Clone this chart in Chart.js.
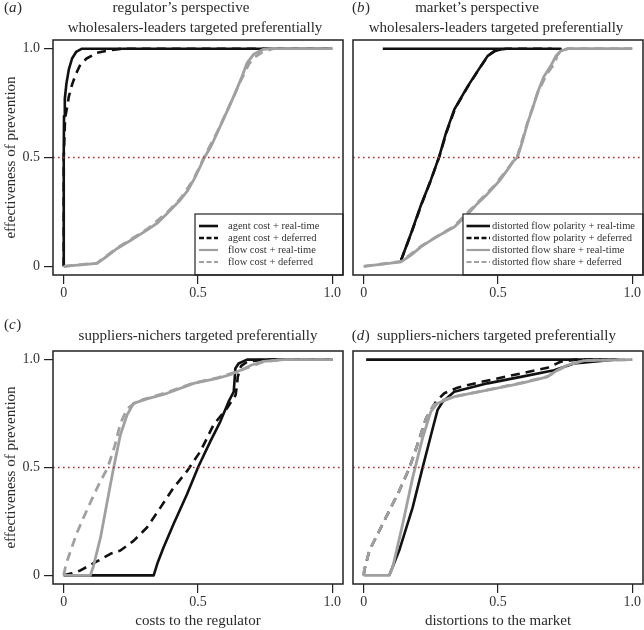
<!DOCTYPE html>
<html>
<head>
<meta charset="utf-8">
<script src="https://cdn.jsdelivr.net/npm/chart.js@4.4.1/dist/chart.umd.min.js"></script>
<style>
  body { margin: 0; background: #fff; }
  #wrap { position: relative; width: 644px; height: 630px; overflow: hidden; }
  canvas { position: absolute; }
</style>
</head>
<body>
<div id="wrap">
  <canvas id="pa" width="348" height="310" style="left:0;top:0"></canvas>
  <canvas id="pb" width="296" height="310" style="left:348px;top:0"></canvas>
  <canvas id="pc" width="348" height="320" style="left:0;top:310px"></canvas>
  <canvas id="pd" width="296" height="320" style="left:348px;top:310px"></canvas>
</div>
<script>
// four-panel prevention effectiveness figure, one Chart.js scatter per panel

const FONT = "'Liberation Serif', 'Times New Roman', serif";

// axes
const AXIS_MIN = -0.04, AXIS_MAX = 1.04;
const X_TICKS = [0, 0.5, 1];
const X_TICK_LABELS = ['0', '0.5', '1.0'];
const Y_TICKS = [0, 0.5, 1];
const Y_TICK_LABELS = ['0', '0.5', '1.0'];
const THRESHOLD = 0.5;

const Y_TITLE = 'effectiveness of prevention';
const LEGEND_COST = ['agent cost + real-time', 'agent cost + deferred', 'flow cost + real-time', 'flow cost + deferred'];
const LEGEND_DIST = ['distorted flow polarity + real-time', 'distorted flow polarity + deferred',
  'distorted flow share + real-time', 'distorted flow share + deferred'];

// (a) regulator, wholesalers-leaders  [x, y]
const aAgentRealTime = [[0,0],[0,0.5],[0.001,0.69],[0.004,0.77],[0.01,0.84],[0.019,0.905],[0.031,0.955],[0.046,0.985],[0.068,1],[1,1]];
const aAgentDeferred = [[0,0],[0,0.5],[0.005,0.68],[0.013,0.735],[0.019,0.78],[0.031,0.835],[0.044,0.88],[0.062,0.928],[0.085,0.955],[0.106,0.969],[0.118,0.98],[0.168,0.992],[0.217,1],[1,1]];
const aFlowRealTime = [[0,0],[0.124,0.013],[0.16,0.045],[0.199,0.082],[0.25,0.12],[0.31,0.166],[0.35,0.2],[0.385,0.243],[0.434,0.305],[0.46,0.345],[0.484,0.397],[0.505,0.45],[0.524,0.5],[0.55,0.555],[0.571,0.612],[0.6,0.69],[0.633,0.781],[0.66,0.86],[0.683,0.935],[0.707,0.974],[0.744,0.997],[0.77,1],[1,1]];
const aFlowDeferred = [[0,0],[0.124,0.015],[0.2,0.085],[0.31,0.17],[0.385,0.247],[0.434,0.31],[0.484,0.4],[0.524,0.505],[0.571,0.615],[0.633,0.78],[0.66,0.855],[0.69,0.93],[0.71,0.96],[0.74,0.985],[0.78,1],[1,1]];

// (b) market, wholesalers-leaders
const bPolarityRealTime = [[0.139,0.028],[0.176,0.151],[0.213,0.281],[0.25,0.397],[0.281,0.504],[0.306,0.612],[0.337,0.72],[0.387,0.827],[0.424,0.897],[0.461,0.966],[0.486,0.989],[0.523,1],[0.733,1],[0.071,1]];
const bPolarityDeferred = [[0.139,0.028],[0.178,0.155],[0.215,0.285],[0.25,0.395],[0.283,0.51],[0.308,0.615],[0.34,0.725],[0.39,0.83],[0.426,0.9],[0.463,0.968],[0.49,0.99],[0.53,1],[0.7,1]];
const bShareRealTime = [[0,0],[0.07,0.01],[0.139,0.02],[0.175,0.05],[0.213,0.089],[0.27,0.135],[0.337,0.181],[0.38,0.23],[0.424,0.289],[0.455,0.325],[0.486,0.366],[0.51,0.4],[0.535,0.443],[0.555,0.48],[0.572,0.5],[0.59,0.57],[0.61,0.658],[0.63,0.73],[0.647,0.797],[0.67,0.87],[0.696,0.92],[0.715,0.965],[0.733,0.989],[0.758,1],[1,1]];
const bShareDeferred = [[0,0],[0.139,0.022],[0.213,0.092],[0.337,0.185],[0.424,0.293],[0.486,0.37],[0.535,0.447],[0.572,0.505],[0.61,0.66],[0.647,0.795],[0.68,0.88],[0.7,0.915],[0.712,0.93],[0.72,0.97],[0.735,0.99],[0.76,1],[1,1]];

// (c) regulator, suppliers-nichers
const cAgentRealTime = [[0,0],[0.335,0],[0.35,0.06],[0.372,0.13],[0.409,0.238],[0.459,0.376],[0.502,0.506],[0.546,0.621],[0.583,0.713],[0.614,0.805],[0.633,0.851],[0.636,0.9],[0.639,0.959],[0.651,0.982],[0.683,1],[1,1]];
const cAgentDeferred = [[0,0],[0.03,0.01],[0.062,0.023],[0.118,0.061],[0.174,0.1],[0.211,0.115],[0.261,0.161],[0.31,0.222],[0.36,0.314],[0.409,0.406],[0.459,0.483],[0.509,0.575],[0.558,0.698],[0.608,0.775],[0.64,0.836],[0.645,0.88],[0.648,0.92],[0.66,0.97],[0.683,0.99],[0.745,1],[1,1]];
const cFlowRealTime = [[0,0],[0.099,0],[0.11,0.04],[0.137,0.176],[0.174,0.422],[0.186,0.5],[0.211,0.652],[0.236,0.744],[0.26,0.797],[0.31,0.818],[0.385,0.844],[0.484,0.89],[0.571,0.913],[0.62,0.93],[0.658,0.951],[0.7,0.975],[0.744,0.992],[0.819,1],[1,1]];
const cFlowDeferred = [[0,0],[0.008,0.05],[0.03,0.13],[0.05,0.2],[0.074,0.268],[0.1,0.34],[0.13,0.42],[0.164,0.5],[0.19,0.6],[0.21,0.7],[0.235,0.77],[0.27,0.805],[0.31,0.82],[0.385,0.848],[0.484,0.892],[0.571,0.915],[0.658,0.95],[0.744,0.99],[0.82,1],[1,1]];

// (d) market, suppliers-nichers
const dPolarityRealTime = [[0.095,0],[0.132,0.115],[0.182,0.314],[0.219,0.498],[0.257,0.682],[0.275,0.767],[0.294,0.805],[0.337,0.851],[0.461,0.89],[0.585,0.92],[0.709,0.951],[0.783,0.982],[0.894,0.995],[0.932,1],[0.009,1]];
const dPolarityDeferred = [[0,0],[0.002,0.023],[0.021,0.115],[0.058,0.207],[0.095,0.299],[0.132,0.391],[0.17,0.498],[0.2,0.606],[0.232,0.728],[0.269,0.805],[0.3,0.844],[0.349,0.87],[0.424,0.893],[0.51,0.916],[0.597,0.939],[0.684,0.962],[0.733,0.99],[0.79,1],[0.95,1]];
const dShareRealTime = [[0,0],[0.095,0],[0.108,0.038],[0.145,0.238],[0.182,0.452],[0.219,0.636],[0.25,0.759],[0.275,0.798],[0.337,0.828],[0.461,0.859],[0.585,0.89],[0.684,0.92],[0.72,0.95],[0.758,0.974],[0.82,0.995],[1,1]];
const dShareDeferred = [[0,0],[0.002,0.025],[0.021,0.115],[0.058,0.207],[0.095,0.299],[0.132,0.391],[0.17,0.498],[0.2,0.606],[0.232,0.728],[0.26,0.79],[0.3,0.815],[0.337,0.828],[0.461,0.86],[0.585,0.892],[0.684,0.922],[0.758,0.975],[0.82,0.996],[1,1]];

// line styles: black solid, black dashed, grey solid, grey dashed
const STYLES = [
  { color: '#111111', width: 2.6, dash: [],     legendDash: [] },
  { color: '#111111', width: 2.6, dash: [9, 6], legendDash: [5, 2.5] },
  { color: '#a0a0a0', width: 2.8, dash: [],     legendDash: [] },
  { color: '#a0a0a0', width: 2.8, dash: [9, 6], legendDash: [5, 2.5] }
];

const PANELS = [
  { id: 'pa', letter: 'a', series: [aAgentRealTime, aAgentDeferred, aFlowRealTime, aFlowDeferred], labels: LEGEND_COST,
    yAxis: true, xTitle: '', pad: { left: 0, right: 5, top: 40 }, xAxisH: 35,
    tag: { x: 4, y: 12 },
    titles: [{ text: 'regulator\u2019s perspective', x: 181, y: 12 }, { text: 'wholesalers-leaders targeted preferentially', x: 195, y: 31.5 }],
    legend: { left: 195, top: 214, lineX0: 199, lineX1: 218, textX: 228 } },
  { id: 'pb', letter: 'b', series: [bPolarityRealTime, bPolarityDeferred, bShareRealTime, bShareDeferred], labels: LEGEND_DIST,
    yAxis: false, xTitle: '', pad: { left: 5, right: 1, top: 40 }, xAxisH: 35,
    tag: { x: 4, y: 12 },
    titles: [{ text: 'market\u2019s perspective', x: 129, y: 12 }, { text: 'wholesalers-leaders targeted preferentially', x: 148, y: 31.5 }],
    legend: { left: 115, top: 214, lineX0: 118.5, lineX1: 142, textX: 144 } },
  { id: 'pc', letter: 'c', series: [cAgentRealTime, cAgentDeferred, cFlowRealTime, cFlowDeferred], labels: LEGEND_COST,
    yAxis: true, xTitle: 'costs to the regulator', pad: { left: 0, right: 5, top: 41 }, xAxisH: 46,
    tag: { x: 4, y: 19 },
    titles: [{ text: 'suppliers-nichers targeted preferentially', x: 198, y: 29.5 }],
    legend: null },
  { id: 'pd', letter: 'd', series: [dPolarityRealTime, dPolarityDeferred, dShareRealTime, dShareDeferred], labels: LEGEND_DIST,
    yAxis: false, xTitle: 'distortions to the market', pad: { left: 5, right: 1, top: 41 }, xAxisH: 46,
    tag: { x: 3.7, y: 30 },
    titles: [{ text: 'suppliers-nichers targeted preferentially', x: 148.5, y: 30 }],
    legend: null }
];

function drawTag(ctx, letter, x, y) {
  ctx.textAlign = 'left';
  ctx.textBaseline = 'alphabetic';
  ctx.font = '15px ' + FONT;
  ctx.fillText('(', x, y);
  x += ctx.measureText('(').width;
  ctx.font = 'italic 15px ' + FONT;
  ctx.fillText(letter, x, y);
  x += ctx.measureText(letter).width + 0.5;
  ctx.font = '15px ' + FONT;
  ctx.fillText(')', x, y);
}

const decor = {
  id: 'decor',
  afterDatasetsDraw(chart, args, p) {
    const { ctx, chartArea: ca } = chart;
    ctx.save();
    if (p.legend) {
      const lg = p.legend;
      const w = ca.right - lg.left, h = ca.bottom - lg.top;
      ctx.fillStyle = '#fff';
      ctx.fillRect(lg.left, lg.top, w, h);
      ctx.strokeStyle = '#222';
      ctx.lineWidth = 1.2;
      ctx.strokeRect(lg.left, lg.top, w, h);
      ctx.font = '10.5px ' + FONT;
      ctx.textAlign = 'left';
      ctx.textBaseline = 'middle';
      p.labels.forEach((label, i) => {
        const y = lg.top + 12 + i * 12;
        const st = STYLES[i];
        ctx.beginPath();
        ctx.setLineDash(st.legendDash);
        ctx.strokeStyle = st.color;
        ctx.lineWidth = i < 2 ? 2.6 : 2.2;
        ctx.moveTo(lg.lineX0, y);
        ctx.lineTo(lg.lineX1, y);
        ctx.stroke();
        ctx.setLineDash([]);
        ctx.fillStyle = '#333';
        ctx.fillText(label, lg.textX, y + 0.5);
      });
    }
    // plot frame
    ctx.strokeStyle = '#222';
    ctx.lineWidth = 1.5;
    ctx.setLineDash([]);
    ctx.strokeRect(ca.left, ca.top, ca.right - ca.left, ca.bottom - ca.top);
    ctx.restore();
  },
  afterDraw(chart, args, p) {
    const ctx = chart.ctx;
    ctx.save();
    ctx.fillStyle = '#2a2a2a';
    drawTag(ctx, p.letter, p.tag.x, p.tag.y);
    ctx.font = '15px ' + FONT;
    ctx.textAlign = 'center';
    ctx.textBaseline = 'alphabetic';
    p.titles.forEach(t => ctx.fillText(t.text, t.x, t.y));
    ctx.restore();
  }
};

Chart.defaults.font.family = FONT;
Chart.defaults.color = '#333';

function makeChart(p) {
  const datasets = p.series.map((pts, i) => ({
    label: p.labels[i],
    data: pts.map(([x, y]) => ({ x, y })),
    borderColor: STYLES[i].color,
    borderWidth: STYLES[i].width,
    borderDash: STYLES[i].dash,
    borderJoinStyle: 'round',
    pointRadius: 0,
    showLine: true,
    fill: false,
    tension: 0,
    order: 4 - i
  }));
  datasets.push({
    label: 'threshold',
    data: [{ x: AXIS_MIN, y: THRESHOLD }, { x: AXIS_MAX, y: THRESHOLD }],
    borderColor: '#b03030',
    borderWidth: 1.5,
    borderDash: [1.6, 3.4],
    pointRadius: 0,
    showLine: true,
    order: 0
  });

  return new Chart(document.getElementById(p.id), {
    type: 'scatter',
    data: { datasets },
    plugins: [decor],
    options: {
      responsive: false,
      animation: false,
      events: [],
      layout: { padding: { left: p.pad.left, right: p.pad.right, top: p.pad.top, bottom: 0 } },
      plugins: { legend: { display: false }, tooltip: { enabled: false }, decor: p },
      scales: {
        x: {
          type: 'linear', min: AXIS_MIN, max: AXIS_MAX,
          afterBuildTicks: s => { s.ticks = X_TICKS.map(v => ({ value: v })); },
          afterFit: s => { s.height = p.xAxisH; },
          ticks: { font: { size: 14 }, color: '#333', padding: 1, maxRotation: 0, autoSkip: false,
                   callback: (v, i) => X_TICK_LABELS[i] },
          grid: { drawOnChartArea: false, drawTicks: true, tickLength: 9, color: '#222', lineWidth: 1.2 },
          border: { display: false },
          title: { display: !!p.xTitle, text: p.xTitle, font: { size: 15 }, color: '#2a2a2a',
                   padding: { top: 0, bottom: 0 } }
        },
        y: {
          type: 'linear', min: AXIS_MIN, max: AXIS_MAX,
          display: p.yAxis,
          afterBuildTicks: s => { s.ticks = Y_TICKS.map(v => ({ value: v })); },
          afterFit: s => { s.width = p.yAxis ? 53 : 0; },
          ticks: { font: { size: 14 }, color: '#333', padding: 4, autoSkip: false,
                   callback: (v, i) => Y_TICK_LABELS[i] },
          grid: { drawOnChartArea: false, drawTicks: true, tickLength: 9, color: '#222', lineWidth: 1.2 },
          border: { display: false },
          title: { display: p.yAxis, text: Y_TITLE, font: { size: 15 }, color: '#2a2a2a',
                   padding: { top: 2, bottom: 0 } }
        }
      }
    }
  });
}

PANELS.forEach(makeChart);
</script>
</body>
</html>
